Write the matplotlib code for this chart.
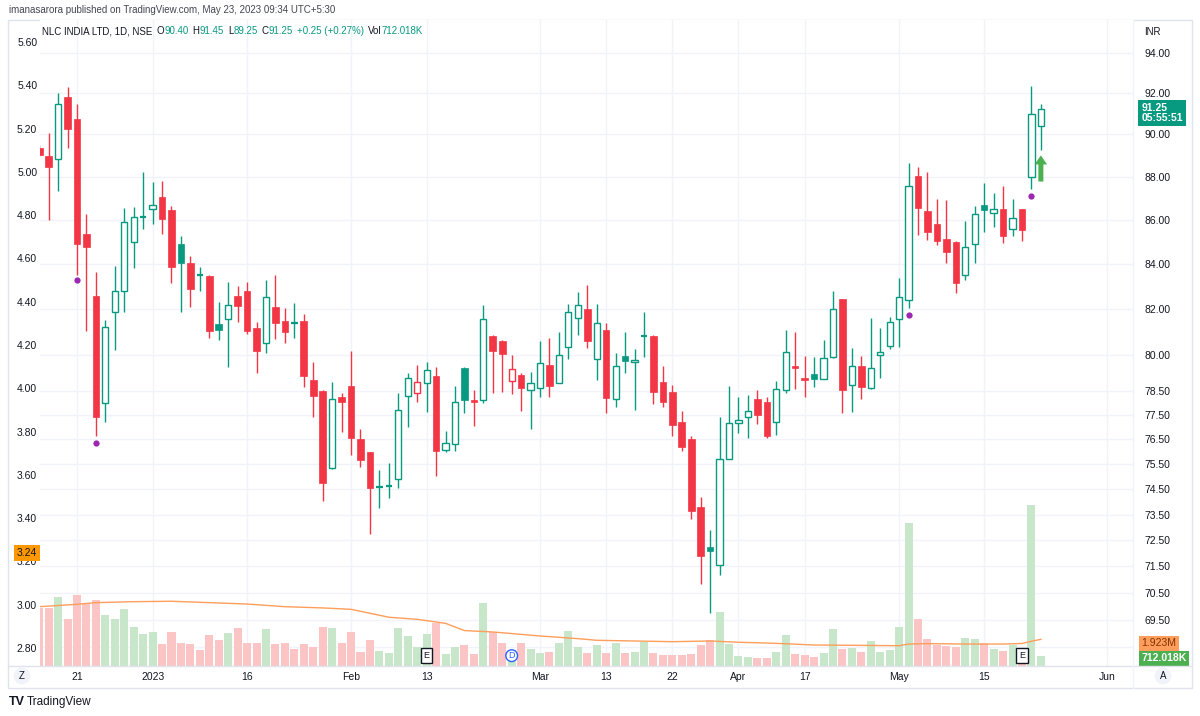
import numpy as np
import matplotlib
matplotlib.use("Agg")
import matplotlib.pyplot as plt
from matplotlib.patches import Rectangle
from matplotlib.lines import Line2D
from matplotlib.ticker import NullLocator
from matplotlib.transforms import blended_transform_factory as blend
from matplotlib.offsetbox import TextArea, HPacker, AnnotationBbox

# ---- daily OHLC (Dec 15, 2022 .. May 23, 2023), bar index 0..106 ----
opens = [89.36, 88.98, 88.83, 91.80, 90.74, 85.37, 82.59, 78.02, 81.89, 82.80,
         85.00, 86.10, 86.48, 87.04, 86.46, 84.90, 84.04, 83.53, 83.48, 81.37,
         81.59, 82.59, 82.81, 81.17, 80.52, 82.11, 81.50, 81.43, 81.50, 78.97,
         78.52, 75.33, 78.24, 78.73, 76.52, 75.98, 74.55, 74.62, 74.91, 78.31,
         78.40, 78.83, 79.13, 76.08, 76.32, 79.46, 78.13, 78.13, 80.85, 80.62,
         78.92, 79.18, 78.55, 78.62, 79.60, 78.85, 80.35, 81.60, 82.00, 79.85,
         81.10, 78.15, 79.98, 79.72, 80.80, 80.84, 78.87, 78.45, 77.20, 76.53,
         73.79, 72.23, 71.53, 75.71, 77.16, 77.41, 78.17, 78.03, 77.20, 78.55,
         79.56, 79.06, 79.22, 79.01, 79.92, 82.44, 78.75, 79.57, 78.62, 80.00,
         80.41, 81.58, 82.40, 88.05, 86.40, 85.81, 85.13, 85.00, 83.51, 84.89,
         86.68, 86.33, 86.48, 85.57, 86.48, 88.00, 90.40]
highs = [89.50, 90.08, 92.00, 92.30, 91.48, 86.26, 83.66, 81.53, 83.91, 86.53,
         86.60, 88.20, 87.77, 87.80, 86.64, 85.27, 84.36, 83.88, 83.52, 82.30,
         83.20, 83.02, 83.20, 81.43, 83.29, 83.51, 82.06, 82.25, 81.80, 79.72,
         78.55, 78.87, 78.42, 80.21, 76.91, 76.00, 75.27, 75.56, 78.43, 79.27,
         79.60, 79.72, 79.50, 76.86, 78.73, 79.50, 78.55, 82.17, 80.88, 80.65,
         80.03, 79.25, 79.29, 80.62, 80.74, 81.00, 82.21, 82.77, 83.07, 82.21,
         81.38, 80.10, 81.00, 80.27, 81.86, 80.86, 79.57, 78.75, 77.67, 76.62,
         74.19, 72.90, 77.41, 78.73, 78.27, 78.35, 78.55, 78.27, 78.92, 81.10,
         81.00, 79.98, 79.93, 80.66, 82.81, 82.46, 80.31, 79.98, 81.62, 81.17,
         81.64, 83.38, 88.63, 88.47, 88.20, 86.96, 86.92, 85.02, 85.96, 86.64,
         87.69, 87.23, 87.56, 86.96, 86.50, 92.36, 91.45]
lows = [88.95, 86.00, 87.35, 89.37, 83.50, 81.03, 76.65, 77.21, 80.24, 81.89,
        83.81, 85.58, 85.81, 85.35, 83.14, 81.86, 82.11, 82.81, 80.74, 80.66,
        79.53, 81.43, 80.90, 79.25, 80.10, 80.70, 80.55, 80.74, 78.66, 77.41,
        74.05, 75.30, 76.82, 75.85, 75.38, 72.75, 73.75, 74.14, 74.54, 77.00,
        78.06, 77.61, 75.03, 75.98, 76.01, 77.57, 77.03, 77.99, 78.43, 78.46,
        78.36, 77.68, 76.91, 78.24, 78.24, 78.83, 79.84, 80.88, 80.31, 78.97,
        77.60, 77.85, 79.25, 77.70, 79.93, 77.96, 77.85, 76.65, 76.01, 73.32,
        70.83, 69.76, 71.15, 75.70, 76.78, 76.55, 77.12, 76.55, 76.70, 78.40,
        78.58, 78.27, 78.68, 79.00, 79.90, 77.60, 77.61, 78.15, 78.60, 79.06,
        80.27, 80.37, 82.06, 85.32, 85.09, 84.83, 84.03, 82.70, 83.29, 84.03,
        85.44, 85.69, 84.94, 85.24, 85.04, 87.42, 89.25]
closes = [89.02, 88.45, 91.48, 90.28, 84.89, 84.75, 77.40, 81.22, 82.81, 85.92,
          86.12, 86.14, 86.66, 86.05, 83.85, 84.04, 82.88, 83.50, 81.07, 81.10,
          82.20, 82.15, 81.07, 80.21, 82.52, 81.40, 81.00, 81.40, 79.11, 78.31,
          74.74, 78.17, 78.06, 76.55, 75.67, 74.56, 74.60, 74.66, 77.71, 79.04,
          78.87, 79.39, 76.05, 76.35, 78.03, 78.13, 78.03, 81.56, 80.21, 80.07,
          79.41, 78.62, 78.85, 79.67, 78.72, 80.03, 81.86, 82.20, 80.62, 81.38,
          78.22, 79.57, 79.78, 79.80, 80.84, 78.44, 78.03, 77.09, 76.21, 73.65,
          71.91, 72.10, 75.71, 77.16, 77.30, 77.68, 77.50, 76.62, 78.58, 80.17,
          79.46, 78.97, 79.00, 79.88, 82.00, 78.55, 79.57, 78.66, 79.46, 80.17,
          81.42, 82.52, 87.54, 86.54, 85.46, 85.04, 84.53, 83.17, 84.74, 86.26,
          86.45, 86.48, 85.28, 86.07, 85.51, 91.00, 91.25]

# volume in millions, and the orange volume moving average (sampled along the line)
volumes_m = [4.15, 4.15, 4.95, 3.40, 5.10, 4.50, 4.73, 3.67, 3.36, 4.08,
             2.79, 2.30, 2.43, 1.58, 2.43, 1.63, 1.58, 1.15, 2.21, 1.87,
             2.35, 2.71, 1.63, 1.68, 2.66, 1.58, 1.63, 1.22, 1.58, 1.35,
             2.83, 2.71, 1.68, 2.45, 1.03, 1.90, 1.06, 0.94, 2.71, 2.16,
             1.39, 2.30, 3.07, 0.86, 1.39, 1.51, 0.86, 4.56, 2.47, 1.66,
             1.15, 1.63, 1.22, 0.91, 0.99, 1.68, 2.52, 1.39, 0.91, 1.51,
             0.91, 1.63, 0.96, 0.99, 1.70, 0.91, 0.79, 0.77, 0.79, 0.86,
             1.51, 1.87, 3.91, 1.58, 0.72, 0.63, 0.55, 0.60, 1.03, 2.23,
             0.86, 0.79, 0.67, 0.91, 2.66, 1.20, 1.32, 1.01, 1.80, 0.99,
             1.15, 2.83, 10.30, 3.36, 1.92, 1.51, 1.44, 1.35, 2.04, 1.92,
             1.63, 1.22, 1.08, 1.51, 1.15, 11.60, 0.712018]
ma_idx = [0, 4, 6, 10, 14, 18, 22, 26, 30, 33, 37, 40, 43, 45, 48, 53, 57, 59,
          63, 67, 71, 74, 78, 82, 86, 91, 92, 94, 98, 102, 104, 105, 106]
ma_val = [4.27, 4.44, 4.56, 4.63, 4.66, 4.56, 4.46, 4.27, 4.18, 4.08, 3.51, 3.36,
          3.07, 2.55, 2.45, 2.16, 1.97, 1.85, 1.80, 1.75, 1.80, 1.71, 1.63, 1.51,
          1.49, 1.46, 1.58, 1.61, 1.58, 1.58, 1.62, 1.78, 1.92]

# purple pivot dots
pivot_idx = [4, 6, 92, 105]
pivot_price = [83.27, 76.36, 81.75, 87.10]

# axes labels
date_ticks = [4, 12, 22, 33, 41, 53, 60, 67, 74, 81, 91, 100, 113]
date_labels = ['21', '2023', '16', 'Feb', '13', 'Mar', '13', '22', 'Apr', '17', 'May', '15', 'Jun']
price_ticks = [69.5, 70.5, 71.5, 72.5, 73.5, 74.5, 75.5, 76.5, 77.5, 78.5,
               80, 82, 84, 86, 88, 90, 92, 94]
grid_prices = [68.5] + price_ticks
left_ticks = [2.8, 3.0, 3.2, 3.4, 3.6, 3.8, 4.0, 4.2, 4.4, 4.6, 4.8, 5.0, 5.2, 5.4, 5.6]
earnings_idx = [41, 104]
dividend_idx = [50]

plt.rcParams['font.family'] = ['Liberation Sans', 'DejaVu Sans']

W, H = 1200, 716
GREEN = '#089981'
RED = '#f23645'
TEXT = '#131722'
GRID = '#f0f3fa'
BORDER = '#e0e3eb'


def fx(px):
    return px / W


def fy(py):
    return 1 - py / H


fig = plt.figure(figsize=(W / 100, H / 100), dpi=100)
fig.patch.set_facecolor('white')

rect = [fx(40), fy(666), fx(1133) - fx(40), fy(20) - fy(666)]
ax_vol = fig.add_axes(rect, zorder=1)
ax_left = fig.add_axes(rect, zorder=2)
ax = fig.add_axes(rect, zorder=3)

xlim = (0.085, 115.75)
for a in (ax_vol, ax_left, ax):
    a.set_xlim(*xlim)
    for s in a.spines.values():
        s.set_visible(False)
ax_left.patch.set_visible(False)
ax.patch.set_visible(False)

ax.set_yscale('log')
ax.set_ylim(67.80, 95.66)

# ---- grid (drawn in the bottom axes so it sits under the volume) ----
tr_h = blend(ax_vol.transAxes, ax.transData)
for p in grid_prices:
    ax_vol.add_line(Line2D([0, 1], [p, p], transform=tr_h, color=GRID, lw=1, zorder=0))
for d in date_ticks:
    ax_vol.axvline(d, color=GRID, lw=1, zorder=0)

# ---- volume ----
o = np.array(opens)
c = np.array(closes)
x = np.arange(len(c))
vol_colors = np.where(c >= o, '#c7e6ca', '#fbc5c6')
ax_vol.bar(x, volumes_m, width=0.85, color=vol_colors, linewidth=0, zorder=2)
ax_vol.plot(ma_idx, ma_val, color='#ff9e5a', lw=1, zorder=3)
ax_vol.set_ylim(0, 46.5)
ax_vol.set_xticks([])
ax_vol.set_yticks([])

tr_ev = blend(ax_vol.transData, ax_vol.transAxes)
for i in earnings_idx:
    ax_vol.text(i, 0.016, 'E', transform=tr_ev, ha='center', va='center', fontsize=6.5,
                color=TEXT, zorder=5,
                bbox=dict(boxstyle='square,pad=0.3', fc='white', ec=TEXT, lw=1))
for i in dividend_idx:
    ax_vol.text(i, 0.016, 'D', transform=tr_ev, ha='center', va='center', fontsize=6.5,
                color='#2962ff', zorder=5,
                bbox=dict(boxstyle='circle,pad=0.15', fc='white', ec='#2962ff', lw=1))

# ---- candles (hollow-candle style) ----
prev = np.r_[o[0], c[:-1]]
for i in x:
    col = GREEN if c[i] >= prev[i] else RED
    ax.vlines(i, lows[i], highs[i], color=col, lw=1, zorder=2)
    lo, hi = min(o[i], c[i]), max(o[i], c[i])
    if hi - lo < 0.06:
        ax.hlines((lo + hi) / 2, i - 0.35, i + 0.35, color=col, lw=1.6, zorder=3)
    elif c[i] > o[i]:
        ax.add_patch(Rectangle((i - 0.33, lo), 0.66, hi - lo, fc='white', ec=col, lw=1, zorder=3))
    else:
        ax.add_patch(Rectangle((i - 0.35, lo), 0.7, hi - lo, fc=col, ec=col, lw=0.5, zorder=3))

ax.plot(pivot_idx, pivot_price, 'o', color='#9c27b0', ms=4.5, mec='none', zorder=4)
ax.annotate('', xy=(106, 89.0), xytext=(106, 87.77),
            arrowprops=dict(facecolor='#4caf50', edgecolor='none', width=3.6,
                            headwidth=9, headlength=6.5, shrink=0), zorder=5)

# right price scale
ax.yaxis.tick_right()
ax.set_yticks(price_ticks)
ax.set_yticklabels([f'{p:.2f}' for p in price_ticks])
ax.yaxis.set_minor_locator(NullLocator())
ax.tick_params(axis='y', length=0, pad=8, labelsize=7.5, labelcolor=TEXT)
ax.set_xticks(date_ticks)
ax.set_xticklabels(date_labels)
ax.tick_params(axis='x', length=0, pad=4, labelsize=7.5, labelcolor=TEXT)

# left scale
ax_left.set_ylim(2.7168, 5.7017)
ax_left.set_yticks(left_ticks)
ax_left.set_yticklabels([f'{v:.2f}' for v in left_ticks])
ax_left.set_xticks([])
ax_left.tick_params(axis='y', length=0, pad=2, labelsize=7.5, labelcolor=TEXT)
ax_left.annotate('3.24', xy=(0, 3.24), xycoords=blend(ax_left.transAxes, ax_left.transData),
                 xytext=(-2, 0), textcoords='offset points', ha='right', va='center',
                 fontsize=7.5, color=TEXT, zorder=6,
                 bbox=dict(boxstyle='square,pad=0.3', fc='#ff9800', ec='none'))

# last price / volume labels on the right scale
ax.annotate('91.25\n05:55:51', xy=(1, 91.25), xycoords=blend(ax.transAxes, ax.transData),
            xytext=(6, -3), textcoords='offset points', ha='left', va='center',
            fontsize=7.5, color='white', fontweight='bold', linespacing=1.0,
            annotation_clip=False,
            bbox=dict(boxstyle='square,pad=0.3', fc=GREEN, ec='none'))
ax_vol.annotate('1.923M', xy=(1, 1.923), xycoords=blend(ax_vol.transAxes, ax_vol.transData),
                xytext=(6, -3), textcoords='offset points', ha='left', va='center',
                fontsize=7.5, color='#7f3300', annotation_clip=False, zorder=6,
                bbox=dict(boxstyle='square,pad=0.25', fc='#ff9d5c', ec='none'))
ax_vol.annotate('712.018K', xy=(1, 0.712), xycoords=blend(ax_vol.transAxes, ax_vol.transData),
                xytext=(6, -1.5), textcoords='offset points', ha='left', va='center',
                fontsize=7.5, color='white', fontweight='bold', annotation_clip=False, zorder=7,
                bbox=dict(boxstyle='square,pad=0.25', fc='#4caf50', ec='none'))

# ---- frame ----
fig.add_artist(Rectangle((fx(8), fy(688)), fx(1192) - fx(8), fy(20) - fy(688),
                         transform=fig.transFigure, fill=False, ec=BORDER, lw=1))
fig.add_artist(Line2D([fx(8), fx(1192)], [fy(666), fy(666)], transform=fig.transFigure,
                      color=BORDER, lw=1))
fig.add_artist(Line2D([fx(1133), fx(1133)], [fy(20), fy(688)], transform=fig.transFigure,
                      color='#f0f3fa', lw=1))

# ---- texts ----
fig.text(fx(9), fy(10), 'imanasarora published on TradingView.com, May 23, 2023 09:34 UTC+5:30',
         fontsize=7, color='#434651', va='center', ha='left')
fig.text(fx(1152), fy(32), 'INR', fontsize=7, color=TEXT, va='center', ha='center')


def run(parts, size=7):
    return HPacker(children=[TextArea(t, textprops=dict(color=col, fontsize=size)) for t, col in parts],
                   align='baseline', pad=0, sep=0)


legend = HPacker(children=[
    run([('NLC INDIA LTD, 1D, NSE', TEXT)]),
    run([('O', TEXT), ('90.40', GREEN)]),
    run([('H', TEXT), ('91.45', GREEN)]),
    run([('L', TEXT), ('89.25', GREEN)]),
    run([('C', TEXT), ('91.25', GREEN)]),
    run([('+0.25 (+0.27%)', GREEN)]),
    run([('Vol', TEXT), ('712.018K', GREEN)]),
], align='baseline', pad=0, sep=3)
fig.add_artist(AnnotationBbox(legend, (fx(42), fy(31)), xycoords='figure fraction',
                              box_alignment=(0, 0.5), frameon=False, pad=0))

for px, lab in [(22, 'Z'), (1163, 'A')]:
    fig.text(fx(px), fy(676), lab, fontsize=7, color=TEXT, ha='center', va='center',
             bbox=dict(boxstyle='circle,pad=0.35', fc='#f0f3fa', ec='none'))

fig.text(fx(9), fy(702), 'TV', fontsize=9, fontweight='bold', color=TEXT, va='center', ha='left')
fig.text(fx(27), fy(702), 'TradingView', fontsize=8.5, color=TEXT, va='center', ha='left')

fig.savefig('out.png', dpi=100, facecolor='white')
plt.close(fig)
